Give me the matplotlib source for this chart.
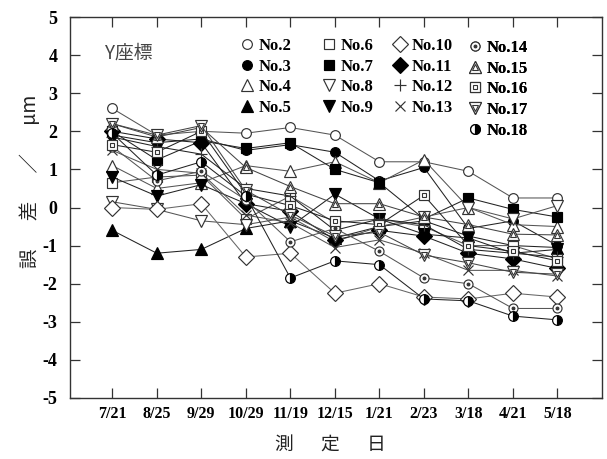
import matplotlib
matplotlib.use("Agg")
import matplotlib.pyplot as plt
from matplotlib.lines import Line2D

# measurement dates
dates = ["7/21", "8/25", "9/29", "10/29", "11/19", "12/15",
         "1/21", "2/23", "3/18", "4/21", "5/18"]

# Y-coordinate error (um) for each measuring point
no2 = [2.6, 1.9, 2.0, 1.95, 2.1, 1.9, 1.2, 1.2, 0.95, 0.25, 0.25]
no3 = [1.9, 1.7, 1.8, 1.5, 1.65, 1.45, 0.7, 1.05, -0.55, -0.35, -1.0]
no4 = [1.1, 0.5, 0.65, 1.1, 0.95, 1.2, 0.65, 1.25, 0.0, -0.45, -0.5]
no5 = [-0.6, -1.2, -1.1, -0.55, -0.35, -0.8, -0.5, -0.35, -0.75, -1.0, -1.05]
no6 = [0.65, 0.8, 0.85, -0.3, 0.3, -0.4, -0.3, -0.5, -1.0, -1.0, -1.35]
no7 = [2.0, 1.25, 1.75, 1.55, 1.7, 1.0, 0.65, -0.3, 0.25, -0.05, -0.25]
no8 = [0.15, -0.05, -0.35, -0.45, -0.25, -0.9, -0.5, -0.25, 0.0, -0.3, 0.05]
no9 = [0.8, 0.3, 0.6, 0.1, -0.5, 0.35, -0.3, -0.7, -0.8, -1.2, -1.1]
no10 = [0.0, -0.05, 0.1, -1.3, -1.2, -2.25, -2.0, -2.35, -2.4, -2.25, -2.35]
no11 = [2.0, 1.8, 1.7, 0.1, -0.1, -0.85, -0.6, -0.75, -1.2, -1.35, -1.6]
no12 = [1.85, 1.6, 1.4, 0.5, 0.3, -0.6, -0.3, -0.45, -1.1, -1.2, -1.3]
no13 = [1.5, 1.0, 0.9, -0.2, -0.4, -1.05, -0.85, -1.2, -1.65, -1.65, -1.8]
no14 = [1.6, 0.7, 0.95, 0.2, -0.9, -0.55, -1.15, -1.85, -2.0, -2.65, -2.65]
no15 = [2.2, 1.85, 2.1, 1.05, 0.55, 0.1, 0.1, -0.25, -0.45, -0.7, -0.72]
no16 = [1.65, 1.45, 2.0, 0.35, 0.05, -0.35, -0.45, 0.32, -1.0, -1.15, -1.4]
no17 = [2.2, 1.9, 2.15, 0.45, -0.2, -0.75, -0.65, -1.25, -1.45, -1.7, -1.75]
no18 = [1.95, 0.85, 1.2, 0.3, -1.85, -1.4, -1.5, -2.4, -2.45, -2.85, -2.95]

labels = ["No.%d" % i for i in range(2, 19)]
series = [no2, no3, no4, no5, no6, no7, no8, no9, no10,
          no11, no12, no13, no14, no15, no16, no17, no18]

EDGE = "#333333"
# outer marker of each series
outer = {
    "No.2": dict(marker="o", ms=7, mfc="white"),
    "No.3": dict(marker="o", ms=7, mfc="black"),
    "No.4": dict(marker="^", ms=8.5, mfc="white"),
    "No.5": dict(marker="^", ms=8.5, mfc="black"),
    "No.6": dict(marker="s", ms=6.5, mfc="white"),
    "No.7": dict(marker="s", ms=6.5, mfc="black"),
    "No.8": dict(marker="v", ms=8.5, mfc="white"),
    "No.9": dict(marker="v", ms=8.5, mfc="black"),
    "No.10": dict(marker="D", ms=8, mfc="white"),
    "No.11": dict(marker="D", ms=8, mfc="black"),
    "No.12": dict(marker="+", ms=9, mfc="black"),
    "No.13": dict(marker="x", ms=7, mfc="black"),
    "No.14": dict(marker="o", ms=6.5, mfc="white"),
    "No.15": dict(marker="^", ms=8.5, mfc="white"),
    "No.16": dict(marker="s", ms=6.5, mfc="white"),
    "No.17": dict(marker="v", ms=8.5, mfc="white"),
    "No.18": dict(marker="o", ms=7, mfc="black", fillstyle="right",
                  markerfacecoloralt="white"),
}
# inner marker drawn on top for the double symbols
inner = {
    "No.14": dict(marker="o", ms=2, mfc=EDGE),
    "No.15": dict(marker="^", ms=4.5, mfc="white"),
    "No.16": dict(marker="s", ms=3, mfc="white"),
    "No.17": dict(marker="v", ms=4.5, mfc="white"),
}
line_color = {
    "No.2": "#555555", "No.3": "#222222", "No.4": "#555555", "No.5": "#222222",
    "No.6": "#555555", "No.7": "#222222", "No.8": "#555555", "No.9": "#222222",
    "No.10": "#666666", "No.11": "#222222", "No.12": "#222222", "No.13": "#555555",
    "No.14": "#555555", "No.15": "#444444", "No.16": "#222222", "No.17": "#444444",
    "No.18": "#222222",
}

plt.rcParams["font.family"] = ["Liberation Serif", "DejaVu Serif"]
plt.rcParams["axes.unicode_minus"] = False
fig = plt.figure(figsize=(6.07, 4.59), dpi=100)
ax = fig.add_axes([70 / 607, 1 - 398 / 459, 532 / 607, 381 / 459])

x = list(range(len(dates)))
handles = {}
for i, (lab, vals) in enumerate(zip(labels, series)):
    st = outer[lab]
    mec = "black" if st["mfc"] == "black" and st["marker"] not in "+x" else EDGE
    kw = dict(marker=st["marker"], ms=st["ms"], mfc=st["mfc"], mec=mec, mew=0.85)
    if "fillstyle" in st:
        kw.update(fillstyle=st["fillstyle"],
                  markerfacecoloralt=st["markerfacecoloralt"], mec="black")
    ax.plot(x, vals, color=line_color[lab], lw=0.75, zorder=2 + i * 0.01, **kw)
    h = Line2D([], [], linestyle="none", **kw)
    if lab in inner:
        ist = inner[lab]
        ikw = dict(marker=ist["marker"], ms=ist["ms"], mfc=ist["mfc"],
                   mec=EDGE, mew=0.8)
        ax.plot(x, vals, linestyle="none", zorder=2.005 + i * 0.01, **ikw)
        h = (h, Line2D([], [], linestyle="none", **ikw))
    handles[lab] = h

ax.set_xlim(-0.95, 11.0)
ax.set_ylim(-5, 5)
ax.set_xticks(x)
ax.set_xticklabels(dates)
ax.set_yticks(range(-5, 6))
ax.tick_params(direction="in", length=7, width=0.9, color="#333333",
               top=True, right=True, labeltop=False, labelright=False)
ax.tick_params(axis="y", pad=9, labelsize=13)
ax.tick_params(axis="x", pad=6, labelsize=11.5)
for t in ax.get_xticklabels() + ax.get_yticklabels():
    t.set_fontweight("bold")
for sp in ax.spines.values():
    sp.set_color("#333333")
    sp.set_linewidth(1.0)

cjk = ["Noto Sans CJK JP", "DejaVu Sans"]
ax.set_ylabel("誤　  差　  ／　  μm", family=cjk, fontsize=14, color="#222222")
ax.yaxis.set_label_coords(-0.055, 0.57)
ax.set_xlabel("測　  定　  日", family=cjk, fontsize=13.5, color="#222222")
ax.xaxis.set_label_coords(0.49, -0.095)
ax.text(0.066, 0.905, "Y座標", transform=ax.transAxes, family=cjk,
        fontsize=13.5, color="#444444", va="center", ha="left")

# legend in four columns
groups = [labels[0:4], labels[4:8], labels[8:12], labels[12:17]]
lefts = [0.317, 0.4705, 0.6047, 0.7457]
tops = [0.945, 0.945, 0.945, 0.940]
for grp, lx, ty in zip(groups, lefts, tops):
    leg = ax.legend([handles[g] for g in grp], grp, loc="upper left",
                    bbox_to_anchor=(lx, ty), frameon=False, borderpad=0,
                    borderaxespad=0, handlelength=1.0, handletextpad=0.2,
                    labelspacing=0.28,
                    prop=dict(family="Liberation Serif", weight="bold", size=12))
    ax.add_artist(leg)

fig.savefig("out.png", dpi=100)
